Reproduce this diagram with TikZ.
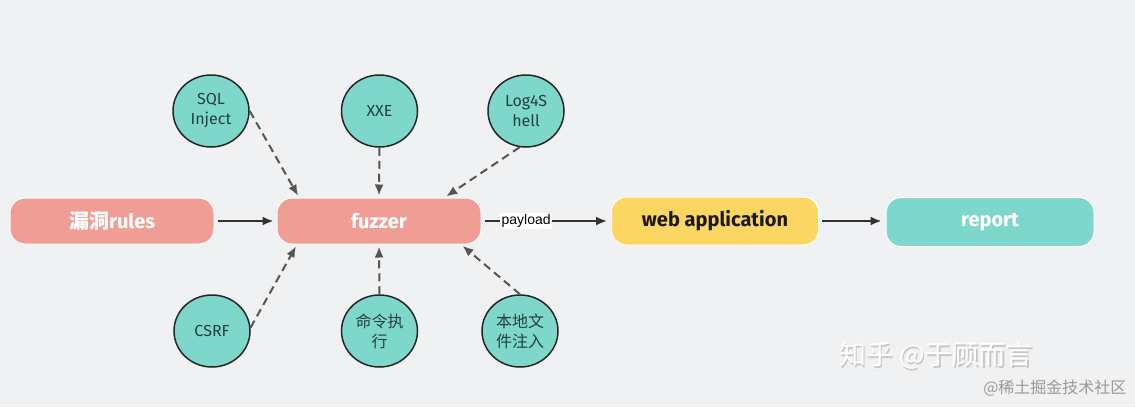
\documentclass[tikz,border=0pt]{standalone}
\usepackage{fontspec}
\setmainfont{Fira Sans}
\newfontfamily\cjk{Noto Sans CJK SC}
\newfontfamily\lib{Liberation Sans}
\usetikzlibrary{shapes.geometric,arrows.meta,calc}
\definecolor{bg}{HTML}{F0F1F3}
\definecolor{salmon}{HTML}{F09E95}
\definecolor{yel}{HTML}{FBD662}
\definecolor{teal}{HTML}{7DD8CB}
\definecolor{dk}{HTML}{333333}
\definecolor{dash}{HTML}{555555}
\definecolor{ctext}{HTML}{24403B}
\tikzset{
  box/.style={rectangle, rounded corners=15pt, minimum width=204pt, minimum height=46pt,
    draw=white, line width=1pt, font=\fontsize{20}{24}\selectfont\bfseries, inner sep=0pt},
  vuln/.style={ellipse, fill=teal, draw=black!85, line width=1.5pt, minimum width=76pt,
    minimum height=72pt, inner sep=0pt, align=center, text=ctext,
    font=\fontsize{16}{20}\selectfont},
  solidarrow/.style={draw=dk, line width=2pt, -{Latex[length=11pt,width=9pt]}},
  dasharrow/.style={draw=dash, line width=2pt, dash pattern=on 8pt off 5pt,
    -{Latex[length=11pt,width=9pt]}, shorten >=2pt},
}
\begin{document}
\begin{tikzpicture}[x=1pt,y=-1pt]
\fill[bg] (0,0) rectangle (1135,407);
\useasboundingbox (0,0) rectangle (1135,407);

% main boxes
\node[box, fill=salmon, text=white] (rules) at (112,221) {{\cjk\bfseries 漏洞}rules};
\node[box, fill=salmon, text=white] (fuzzer) at (379,221) {fuzzer};
\node[box, fill=yel, text=black!90, minimum width=207pt, minimum height=48pt] (web) at (715,221) {web application};
\node[box, fill=teal, text=white, minimum width=208pt, minimum height=49pt] (report) at (990,222) {report};

% vulnerability circles
\node[vuln] (sql) at (211,111) {SQL\\Inject};
\node[vuln] (xxe) at (379.5,111) {XXE};
\node[vuln] (log) at (526,111) {Log4S\\hell};
\node[vuln] (csrf) at (212,331) {CSRF};
\node[vuln, font=\cjk\fontsize{16}{20}\selectfont] (cmd) at (379.5,331) {命令执\\行};
\node[vuln, font=\cjk\fontsize{16}{20}\selectfont] (lfi) at (520,331) {本地文\\件注入};

% solid arrows
\draw[solidarrow] ($(rules.east)+(3,0)$) -- ($(fuzzer.west)+(-3,0)$);
\draw[solidarrow] ($(fuzzer.east)+(3,0)$) -- node[pos=0.34, fill=white, inner sep=1.5pt, text=black, font=\lib\fontsize{14}{16}\selectfont] (pl) {payload} ($(web.west)+(-4,0)$);
\draw[solidarrow] ($(web.east)+(3,0)$) -- ($(web.east -| report.west)+(-4,0)$);

% dashed arrows
\draw[dasharrow] (sql.east) -- ($(fuzzer.north west)!0.11!(fuzzer.north east)$);
\draw[dasharrow] (xxe.south) -- (fuzzer.north);
\draw[dasharrow] (log.-100) -- ($(fuzzer.north west)!0.82!(fuzzer.north east)$);
\draw[dasharrow] (csrf.5) -- ($(fuzzer.south west)!0.10!(fuzzer.south east)$);
\draw[dasharrow] (cmd.north) -- (fuzzer.south);
\draw[dasharrow] (lfi.north) -- ($(fuzzer.south west)!0.90!(fuzzer.south east)$);

% watermarks
\node[text=black!22, font=\cjk\fontsize{27}{30}\selectfont, anchor=west] (wm1s) at (837,357) {知乎 @于顾而言};
\node[text=white, font=\cjk\fontsize{27}{30}\selectfont, anchor=west] (wm1) at (835.5,355.5) {知乎 @于顾而言};
\node[text=black!40, font=\cjk\fontsize{16}{18}\selectfont, anchor=east] (wm2) at (1130,388) {@稀土掘金技术社区};
\end{tikzpicture}
\end{document}
